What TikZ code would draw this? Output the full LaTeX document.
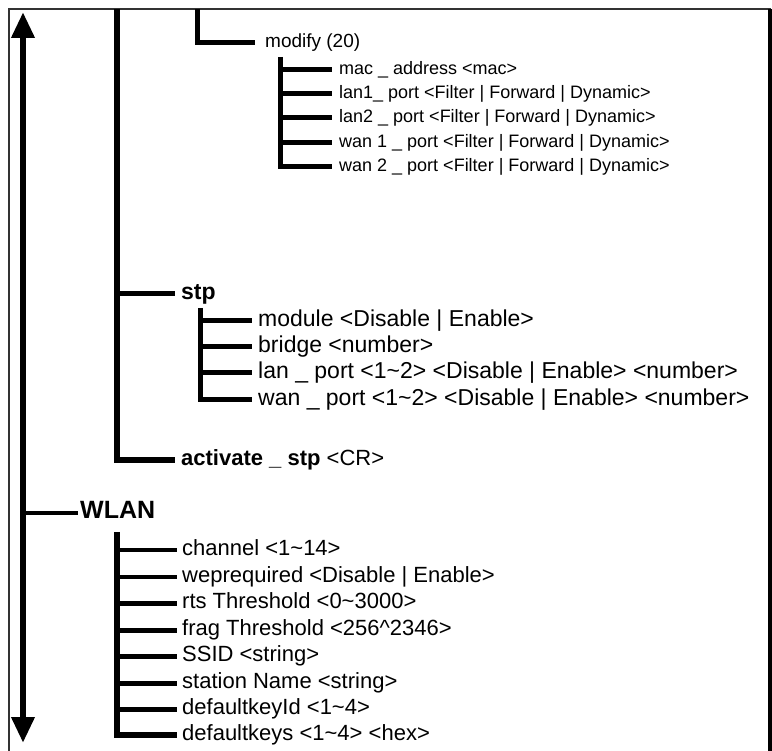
\documentclass[tikz,border=0pt]{standalone}
\usepackage{fontspec}
\setmainfont{Liberation Sans}
\usepackage{tikz}
\usetikzlibrary{arrows.meta}

\begin{document}
\begin{tikzpicture}[
  x=1pt, y=-1pt,
  trunk/.style={line width=5.5pt},
  branch/.style={line width=5pt},
  thinbranch/.style={line width=3.5pt},
  big/.style={anchor=west, inner xsep=6pt, inner ysep=0pt, text height=15pt, text depth=4pt, font=\fontsize{22}{24}\selectfont},
  small/.style={anchor=west, inner xsep=7pt, inner ysep=0pt, text height=12pt, text depth=3.5pt, font=\fontsize{18}{20}\selectfont},
  head/.style={big, font=\fontsize{23}{25}\selectfont\bfseries},
  updown/.style={line width=6.5pt, {Triangle[width=22pt,length=26pt]}-{Triangle[width=22pt,length=26pt]}}
]
  \useasboundingbox (0,0) rectangle (772,751);
  \draw[line width=2pt, black!80] (9,751) -- (9,9) -- (770,9) -- (770,751);
  \draw[line width=4pt] (770,9) -- (770,751);

  % trunk coordinates
  \coordinate (up) at (23,12);
  \coordinate (down) at (23,743);
  \coordinate (ifc) at (117,9);
  \coordinate (mcut) at (197,9);
  \coordinate (mkids) at (280,57);
  \coordinate (skids) at (200,308);
  \coordinate (wkids) at (117,532);

  \draw[updown] (up) -- (down);

  % modify
  \node[small, inner xsep=10pt, font=\fontsize{19}{21}\selectfont] (mod) at (255,43) {modify (20)};
  \node[small] (mac) at (332,70) {mac \_ address <mac>};
  \node[small] (lan1) at (332,94) {lan1\_ port <Filter | Forward | Dynamic>};
  \node[small] (lan2) at (332,118) {lan2 \_ port <Filter | Forward | Dynamic>};
  \node[small] (wan1) at (332,143) {wan 1 \_ port <Filter | Forward | Dynamic>};
  \node[small] (wan2) at (332,167) {wan 2 \_ port <Filter | Forward | Dynamic>};

  \draw[branch] (mcut) |- (mod.west);
  \draw[branch] (mkids) |- (wan2.west);
  \draw[branch] (mkids |- mac.west) -- (mac.west);
  \draw[branch] (mkids |- lan1.west) -- (lan1.west);
  \draw[branch] (mkids |- lan2.west) -- (lan2.west);
  \draw[branch] (mkids |- wan1.west) -- (wan1.west);

  % stp
  \node[head] (stp) at (175,294) {stp};
  \node[big, font=\fontsize{23}{25}\selectfont] (module) at (252,321) {module <Disable | Enable>};
  \node[big, font=\fontsize{23}{25}\selectfont] (bridge) at (252,347) {bridge <number>};
  \node[big, font=\fontsize{23}{25}\selectfont] (lanp) at (252,373) {lan \_ port <1\textasciitilde 2> <Disable | Enable> <number>};
  \node[big, font=\fontsize{23}{25}\selectfont] (wanp) at (252,400) {wan \_ port <1\textasciitilde 2> <Disable | Enable> <number>};
  \node[head, font=\fontsize{22}{24}\selectfont\bfseries] (act) at (175,460) {activate \_ stp \mdseries <CR>};

  \draw[trunk] (ifc) |- (act.west);
  \draw[branch] (ifc |- stp.west) -- (stp.west);
  \draw[branch] (skids) |- (wanp.west);
  \draw[branch] (skids |- module.west) -- (module.west);
  \draw[branch] (skids |- bridge.west) -- (bridge.west);
  \draw[branch] (skids |- lanp.west) -- (lanp.west);

  % WLAN
  \node[head, inner xsep=2pt, font=\fontsize{25}{27}\selectfont\bfseries] (wlan) at (78,513) {WLAN};
  \node[big, inner xsep=5pt] (chan) at (177,550) {channel <1\textasciitilde 14>};
  \node[big, inner xsep=5pt] (wep) at (177,577) {weprequired <Disable | Enable>};
  \node[big, inner xsep=5pt] (rts) at (177,603) {rts Threshold <0\textasciitilde 3000>};
  \node[big, inner xsep=5pt] (frag) at (177,630) {frag Threshold <256\textasciicircum 2346>};
  \node[big, inner xsep=5pt] (ssid) at (177,656) {SSID <string>};
  \node[big, inner xsep=5pt] (stn) at (177,683) {station Name <string>};
  \node[big, inner xsep=5pt] (keyid) at (177,709) {defaultkeyId <1\textasciitilde 4>};
  \node[big, inner xsep=5pt] (keys) at (177,735) {defaultkeys <1\textasciitilde 4> <hex>};

  \draw[thinbranch] (up |- wlan.west) -- (wlan.west);
  \draw[trunk] (wkids) |- (keys.west);
  \draw[thinbranch] (wkids |- chan.west) -- (chan.west);
  \draw[thinbranch] (wkids |- wep.west) -- (wep.west);
  \draw[branch] (wkids |- rts.west) -- (rts.west);
  \draw[branch] (wkids |- frag.west) -- (frag.west);
  \draw[branch] (wkids |- ssid.west) -- (ssid.west);
  \draw[branch] (wkids |- stn.west) -- (stn.west);
  \draw[branch] (wkids |- keyid.west) -- (keyid.west);
\end{tikzpicture}
\end{document}
